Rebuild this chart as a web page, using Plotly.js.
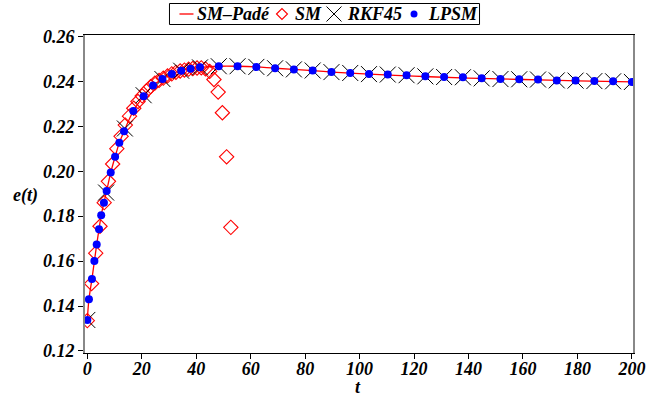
<!DOCTYPE html>
<html>
<head>
<meta charset="utf-8">
<script src="https://cdn.plot.ly/plotly-3.0.1.min.js"></script>
<style>html,body{margin:0;padding:0;background:#fff;}#chart{width:648px;height:400px;}</style>
</head>
<body>
<div id="chart"></div>
<script>
// SM-Padé curve
const padeT = [0,0.6,1.7,2.6,3.45,4.3,5.1,6.1,7.1,8.6,10.2,11.75,13.5,16.9,20.7,24.1,27.6,31,34.5,37.9,41.4,48.3,55.2,62.1,69,80,90,100,120,140,160,180,200];
const padeE = [0.1338,0.143,0.152,0.160,0.1674,0.1742,0.1804,0.186,0.1912,0.1994,0.2064,0.2126,0.2178,0.2268,0.2334,0.2381,0.2410,0.2432,0.2447,0.2456,0.2462,0.2467,0.2467,0.2464,0.2458,0.2450,0.2441,0.2434,0.2423,0.2414,0.2408,0.2402,0.2397];

// SM
const smT = [0,1.55,3.1,4.65,6.2,7.75,9.3,10.85,12.4,13.95,15.5,17.05,18.6,20.15,21.7,23.25,24.8,26.35,27.9,29.45,31,32.55,34.1,35.65,37.2,38.75,40.3,41.85,43.4,44.95,46.5,48.05,49.6,51.15,52.7];
const smE = [0.1335,0.1500,0.1635,0.1755,0.1860,0.1955,0.2032,0.2100,0.2155,0.2205,0.2245,0.2280,0.2310,0.2335,0.2357,0.2376,0.2392,0.2404,0.2414,0.2424,0.2433,0.2440,0.2446,0.2450,0.2454,0.2457,0.2459,0.2460,0.2455,0.2444,0.2408,0.2352,0.2260,0.2064,0.1750];

// RKF45
const rkT = [0,6.9,13.79,20.69,27.59,34.48,41.38,48.28,55.17,62.07,68.97,75.86,82.76,89.66,96.55,103.45,110.34,117.24,124.14,131.03,137.93,144.83,151.72,158.62,165.52,172.41,179.31,186.21,193.1,200];
const rkE = [0.1338,0.1905,0.2190,0.2338,0.2410,0.2447,0.2462,0.2467,0.2467,0.2464,0.2458,0.2453,0.2448,0.2441,0.2437,0.2432,0.2430,0.2427,0.2422,0.2419,0.2418,0.2413,0.2410,0.2409,0.2408,0.2404,0.2403,0.2401,0.2400,0.2397];

// LPSM
const lpT = [0,0.6,1.7,2.6,3.45,4.3,5.1,6.1,7.1,8.6,10.2,11.75,13.5,16.9,20.69,24.14,27.59,31.03,34.48,37.93,41.38,48.28,55.17,62.07,68.97,75.86,82.76,89.66,96.55,103.45,110.34,117.24,124.14,131.03,137.93,144.83,151.72,158.62,165.52,172.41,179.31,186.21,193.1,200];
const lpE = [0.1338,0.143,0.152,0.160,0.1674,0.1742,0.1804,0.186,0.1912,0.1994,0.2064,0.2126,0.2178,0.2268,0.2334,0.2381,0.2410,0.2432,0.2447,0.2456,0.2462,0.2467,0.2467,0.2464,0.2458,0.2453,0.2448,0.2441,0.2437,0.2432,0.2430,0.2427,0.2422,0.2419,0.2418,0.2413,0.2410,0.2409,0.2408,0.2404,0.2403,0.2401,0.2400,0.2397];

const xTicks = [0,20,40,60,80,100,120,140,160,180,200];
const yTicks = [0.12,0.14,0.16,0.18,0.20,0.22,0.24,0.26];
const yTickText = ['0.12','0.14','0.16','0.18','0.20','0.22','0.24','0.26'];
const seriesNames = ['SM\u2013Padé', 'SM', 'RKF45', 'LPSM'];
const axisTitles = {x: 't', y: 'e(t)'};

// page geometry (pixels)
const W = 648, H = 400, ML = 85, MR = 15, MT = 35, MB = 47;
const PW = W - ML - MR, PH = H - MT - MB;
const px = v => (v - ML) / PW;          // page x -> paper x
const py = v => (H - MB - v) / PH;      // page y -> paper y
const P = (x, y) => px(x).toFixed(5) + ',' + py(y).toFixed(5);

const F = 'Liberation Serif';
const bi = (size) => ({family: F, size: size, color: '#000', weight: 'bold', style: 'italic'});

const styles = [
  {mode: 'lines', line: {color: '#ff0000', width: 1.3, shape: 'spline'}},
  {mode: 'markers', marker: {symbol: 'diamond-open', size: 11, color: '#ff0000', line: {width: 1.1, color: '#ff0000'}}},
  {mode: 'markers', marker: {symbol: 'x-thin-open', size: 16, color: '#000', line: {width: 1, color: '#000'}}},
  {mode: 'markers', marker: {symbol: 'circle', size: 8, color: '#0000ff'}}
];
const xs = [padeT, smT, rkT, lpT], ys = [padeE, smE, rkE, lpE];
const traces = xs.map((x, i) => Object.assign({x: x, y: ys[i], name: seriesNames[i], type: 'scatter', showlegend: false}, styles[i]));

// hand-drawn legend key; positions follow the measured text widths
const keyY = 14;
function buildKey(widths) {
  const lineW = 14, symHalf = 12.5, textPadL = 3, padL = 10, padR = 3;
  let x = 0;
  const items = [];
  const lineX0 = x + padL; x = lineX0 + lineW + textPadL;
  items.push({textX: x}); x += widths[0];
  const symX = [];
  for (let i = 1; i < 4; i++) {
    const c = x + symHalf; symX.push(c); x = c + symHalf;
    items.push({textX: x}); x += widths[i];
  }
  const total = x + padR;
  const off = 324.5 - total / 2;
  const sh = [
    {type: 'rect', xref: 'paper', yref: 'paper', x0: px(off), x1: px(off + total), y0: py(3.5), y1: py(24.5), line: {color: '#000', width: 1}, fillcolor: '#fff', layer: 'below'},
    {type: 'line', xref: 'paper', yref: 'paper', x0: px(off + lineX0), x1: px(off + lineX0 + lineW), y0: py(keyY), y1: py(keyY), line: {color: '#ff0000', width: 1.3}}
  ];
  const dX = off + symX[0], dR = 5.5, cX = off + symX[1], cR = 7.5, bX = off + symX[2], bR = 3.5;
  sh.push({type: 'path', xref: 'paper', yref: 'paper', path: 'M' + P(dX - dR, keyY) + 'L' + P(dX, keyY - dR) + 'L' + P(dX + dR, keyY) + 'L' + P(dX, keyY + dR) + 'Z', line: {color: '#ff0000', width: 1.1}});
  sh.push({type: 'path', xref: 'paper', yref: 'paper', path: 'M' + P(cX - cR, keyY - cR) + 'L' + P(cX + cR, keyY + cR) + 'M' + P(cX - cR, keyY + cR) + 'L' + P(cX + cR, keyY - cR), line: {color: '#000', width: 1}});
  sh.push({type: 'circle', xref: 'paper', yref: 'paper', x0: px(bX - bR), x1: px(bX + bR), y0: py(keyY - bR), y1: py(keyY + bR), line: {width: 0}, fillcolor: '#0000ff'});
  const an = seriesNames.map((n, i) => ({text: n, xref: 'paper', yref: 'paper', x: px(off + items[i].textX), y: py(keyY),
    xanchor: 'left', yanchor: 'middle', showarrow: false, borderpad: 0, font: bi(18)}));
  an.push({text: axisTitles.y, xref: 'paper', yref: 'paper', x: px(25), y: py(195), xanchor: 'center', yanchor: 'middle', showarrow: false, font: bi(18)});
  an.push({text: axisTitles.x, xref: 'paper', yref: 'paper', x: px(358), y: py(387), xanchor: 'center', yanchor: 'middle', showarrow: false, borderpad: 0, font: bi(18)});
  return {shapes: sh, annotations: an};
}

const key0 = buildKey([69, 25, 55, 46]);

const layout = {
  width: W, height: H,
  margin: {l: ML, r: MR, t: MT, b: MB},
  paper_bgcolor: '#fff', plot_bgcolor: '#fff',
  showlegend: false,
  xaxis: {range: [-0.85, 200.4], tickvals: xTicks, ticktext: xTicks.map(String),
    ticks: 'outside', ticklen: 5, tickcolor: '#000', tickfont: bi(18), ticklabelstandoff: -6,
    showline: true, linecolor: '#000', linewidth: 1, mirror: true,
    showgrid: false, zeroline: false},
  yaxis: {range: [0.1191, 0.2606], tickvals: yTicks, ticktext: yTickText,
    ticks: 'outside', ticklen: 5, tickcolor: '#000', tickfont: bi(18),
    showline: true, linecolor: '#888', linewidth: 2, mirror: true,
    showgrid: false, zeroline: false},
  shapes: key0.shapes,
  annotations: key0.annotations
};

Plotly.newPlot('chart', traces, layout, {displayModeBar: false, staticPlot: true}).then(gd => {
  const widths = [0, 1, 2, 3].map(i => {
    const el = gd.querySelector('.annotation[data-index="' + i + '"] .annotation-text');
    return el ? el.getBBox().width : [69, 25, 55, 46][i];
  });
  const k = buildKey(widths);
  return Plotly.relayout(gd, {shapes: k.shapes, annotations: k.annotations});
});
</script>
</body>
</html>
